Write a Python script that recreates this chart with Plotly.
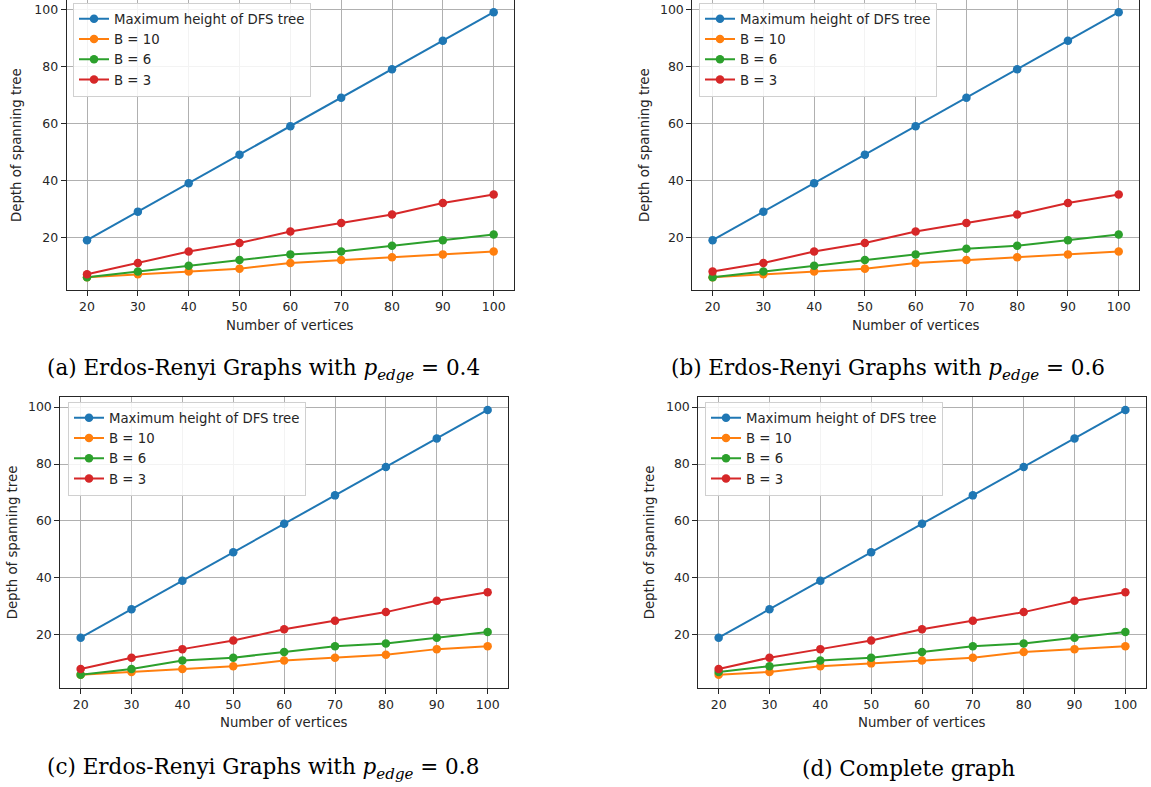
import plotly.graph_objects as go

# ---------------- data ----------------
vertices = [20, 30, 40, 50, 60, 70, 80, 90, 100]
series_names = ["Maximum height of DFS tree", "B = 10", "B = 6", "B = 3"]
colors = ["#1f77b4", "#ff7f0e", "#2ca02c", "#d62728"]

a_dfs = [19, 29, 39, 49, 59, 69, 79, 89, 99]
a_b10 = [6, 7, 8, 9, 11, 12, 13, 14, 15]
a_b6 = [6, 8, 10, 12, 14, 15, 17, 19, 21]
a_b3 = [7, 11, 15, 18, 22, 25, 28, 32, 35]

b_dfs = [19, 29, 39, 49, 59, 69, 79, 89, 99]
b_b10 = [6, 7, 8, 9, 11, 12, 13, 14, 15]
b_b6 = [6, 8, 10, 12, 14, 16, 17, 19, 21]
b_b3 = [8, 11, 15, 18, 22, 25, 28, 32, 35]

c_dfs = [19, 29, 39, 49, 59, 69, 79, 89, 99]
c_b10 = [6, 7, 8, 9, 11, 12, 13, 15, 16]
c_b6 = [6, 8, 11, 12, 14, 16, 17, 19, 21]
c_b3 = [8, 12, 15, 18, 22, 25, 28, 32, 35]

d_dfs = [19, 29, 39, 49, 59, 69, 79, 89, 99]
d_b10 = [6, 7, 9, 10, 11, 12, 14, 15, 16]
d_b6 = [7, 9, 11, 12, 14, 16, 17, 19, 21]
d_b3 = [8, 12, 15, 18, 22, 25, 28, 32, 35]

captions = [
    "(a) Erdos-Renyi Graphs with <i>p</i><sub><i>edge</i></sub> = 0.4",
    "(b) Erdos-Renyi Graphs with <i>p</i><sub><i>edge</i></sub> = 0.6",
    "(c) Erdos-Renyi Graphs with <i>p</i><sub><i>edge</i></sub> = 0.8",
    "(d) Complete graph",
]
x_title = "Number of vertices"
y_title = "Depth of spanning tree"
y_ticks = [20, 40, 60, 80, 100]

panels = [
    [a_dfs, a_b10, a_b6, a_b3],
    [b_dfs, b_b10, b_b6, b_b3],
    [c_dfs, c_b10, c_b6, c_b3],
    [d_dfs, d_b10, d_b6, d_b3],
]

# ---------------- layout geometry (pixels) ----------------
W, H = 1151, 787
# (left, right, top, bottom) of each plot area in pixels
boxes = [
    (66.7, 514.0, 0.0, 290.0),
    (692.3, 1139.0, 0.0, 290.0),
    (60.3, 508.0, 396.7, 688.0),
    (698.3, 1145.7, 396.7, 688.0),
]
yranges = [[1.5, 103.26], [1.5, 103.26], [1.35, 103.65], [1.35, 103.65]]
legend_pos = [(73, 2.5), (699, 2.5), (68, 401.5), (705, 401.5)]
ytitle_x = [16, 644, 12, 649]
xtitle_y = [325, 325, 722, 722]
caption_pos = [(45, 369), (669, 369), (45, 768), (800, 768)]

TXT = "#262626"
tick_font = dict(family="DejaVu Sans", size=12.5, color=TXT)
title_font = dict(family="DejaVu Sans", size=13.3, color=TXT)

fig = go.Figure()
layout = dict(
    width=W, height=H,
    margin=dict(l=0, r=0, t=0, b=0),
    paper_bgcolor="white", plot_bgcolor="white",
    showlegend=True,
    annotations=[],
)

for i, series in enumerate(panels):
    n = "" if i == 0 else str(i + 1)
    leg = "legend" if i == 0 else f"legend{i + 1}"
    for name, vals, col in zip(series_names, series, colors):
        fig.add_trace(go.Scatter(
            x=vertices, y=vals, name=name, mode="lines+markers",
            line=dict(color=col, width=2),
            marker=dict(color=col, size=8.5),
            xaxis="x" + n, yaxis="y" + n, legend=leg,
        ))
    l, r, t, b = boxes[i]
    bottom_row = i >= 2
    layout["xaxis" + n] = dict(
        domain=[l / W, r / W], range=[16, 104], anchor="y" + n,
        tickvals=vertices, ticks="outside", ticklen=5, tickcolor=TXT,
        showline=True, linecolor=TXT, linewidth=1, mirror=bottom_row,
        showgrid=True, gridcolor="#b0b0b0", gridwidth=0.8, zeroline=False,
        tickfont=tick_font,
    )
    layout["yaxis" + n] = dict(
        domain=[1 - b / H, 1 - t / H], range=yranges[i], anchor="x" + n,
        tickvals=y_ticks, ticks="outside", ticklen=5, tickcolor=TXT,
        showline=True, linecolor=TXT, linewidth=1, mirror=True,
        showgrid=True, gridcolor="#b0b0b0", gridwidth=0.8, zeroline=False,
        tickfont=tick_font,
    )
    lx, ly = legend_pos[i]
    layout[leg] = dict(
        x=lx / W, y=1 - ly / H, xanchor="left", yanchor="top",
        xref="paper", yref="paper",
        bgcolor="rgba(255,255,255,0.85)", bordercolor="#d0d0d0", borderwidth=1,
        font=dict(family="DejaVu Sans", size=13.3, color=TXT),
        tracegroupgap=0,
    )
    layout["annotations"].append(dict(
        text=x_title, x=(l + r) / 2 / W, y=1 - xtitle_y[i] / H,
        xref="paper", yref="paper", showarrow=False,
        xanchor="center", yanchor="middle", font=title_font,
    ))
    layout["annotations"].append(dict(
        text=y_title, x=ytitle_x[i] / W, y=1 - (t + b) / 2 / H,
        xref="paper", yref="paper", showarrow=False, textangle=-90,
        xanchor="center", yanchor="middle", font=title_font,
    ))
    cx, cy = caption_pos[i]
    layout["annotations"].append(dict(
        text=captions[i], x=cx / W, y=1 - cy / H,
        xref="paper", yref="paper", showarrow=False,
        xanchor="left", yanchor="middle",
        font=dict(family="DejaVu Serif", size=21.5, color="black"),
    ))

fig.update_layout(**layout)
fig.write_html(
    "out.html",
    config={"displayModeBar": False},
    post_script="document.body.style.margin='0px';",
)
